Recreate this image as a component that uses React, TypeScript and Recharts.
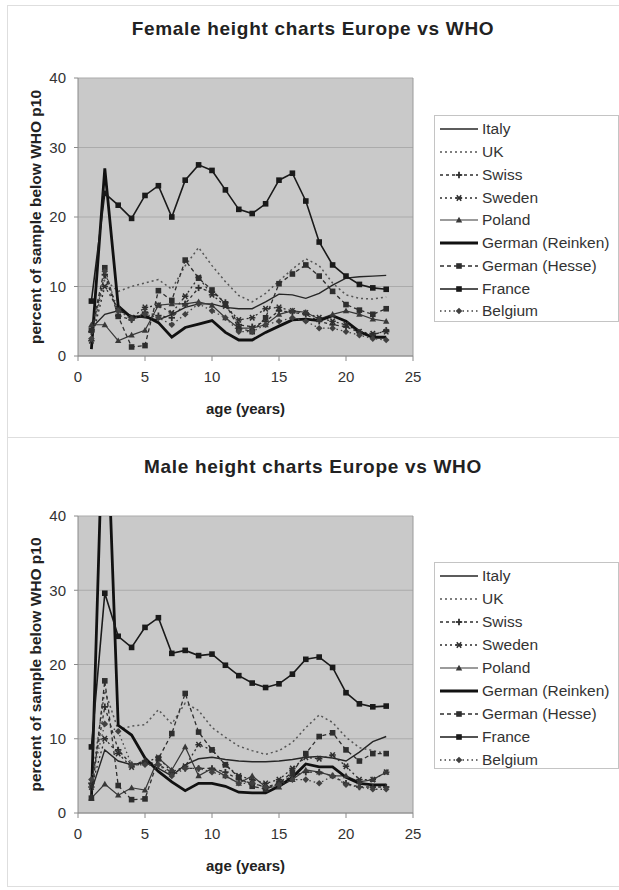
import React from 'react'
import { LineChart, Line, XAxis, YAxis, CartesianGrid, Legend, ReferenceLine } from 'recharts'

// ages 1..23 years
const AGES = [1, 2, 3, 4, 5, 6, 7, 8, 9, 10, 11, 12, 13, 14, 15, 16, 17, 18, 19, 20, 21, 22, 23]

const X_TICKS = [0, 5, 10, 15, 20, 25]
const Y_TICKS = [0, 10, 20, 30, 40]

// female, % of sample below WHO p10
const F_ITALY = [4.0, 6.0, 6.5, 5.8, 5.5, 5.2, 6.0, 7.0, 7.5, 7.5, 7.0, 6.8, 6.8, 7.8, 8.9, 8.8, 8.3, 9.0, 10.2, 11.2, 11.4, 11.5, 11.6]
const F_UK = [3.0, 11.0, 9.3, 10.0, 10.5, 11.0, 9.6, 13.0, 15.6, 13.0, 10.7, 8.7, 7.8, 9.0, 10.8, 12.5, 14.0, 13.0, 10.5, 8.8, 8.3, 8.2, 8.5]
const F_SWISS = [3.5, 11.7, 5.8, 5.2, 6.3, 5.8, 5.5, 7.5, 9.8, 9.2, 7.7, 4.5, 4.2, 5.0, 6.5, 6.3, 6.0, 5.0, 4.5, 4.2, 3.4, 3.0, 3.7]
const F_SWEDEN = [2.2, 10.0, 6.8, 5.5, 7.0, 7.3, 6.2, 8.6, 11.3, 8.8, 7.2, 5.2, 5.5, 6.8, 7.0, 6.5, 6.2, 5.5, 5.0, 4.5, 3.5, 3.2, 3.5]
const F_POLAND = [4.5, 4.5, 2.2, 3.0, 3.7, 7.3, 7.5, 7.5, 7.8, 7.3, 5.5, 4.0, 4.0, 4.5, 6.0, 6.5, 6.3, 5.3, 6.0, 6.5, 6.0, 5.3, 5.0]
const F_REINKEN = [1.0, 27.0, 7.2, 5.5, 5.8, 4.8, 2.7, 4.1, 4.6, 5.1, 3.4, 2.3, 2.3, 3.4, 4.3, 5.2, 5.3, 5.1, 5.8, 5.0, 3.5, 2.7, 2.7]
const F_HESSE = [3.7, 12.7, 5.7, 1.3, 1.5, 9.4, 8.0, 13.8, 11.2, 9.5, 7.5, 4.0, 3.5, 5.5, 10.4, 11.8, 13.1, 11.5, 9.3, 7.4, 6.6, 6.0, 6.8]
const F_FRANCE = [7.9, 23.4, 21.7, 19.8, 23.1, 24.5, 20.0, 25.3, 27.5, 26.7, 23.9, 21.1, 20.5, 21.9, 25.3, 26.3, 22.3, 16.4, 13.1, 11.5, 10.3, 9.8, 9.6]
const F_BELGIUM = [2.5, 12.2, 6.5, 5.3, 6.0, 5.5, 4.5, 6.0, 7.5, 6.5, 5.5, 3.5, 3.5, 4.5, 5.0, 5.5, 5.0, 4.0, 4.0, 3.5, 3.0, 2.5, 2.3]

// male
const M_ITALY = [3.0, 8.5, 7.0, 6.5, 6.8, 6.0, 5.0, 6.5, 7.3, 7.5, 7.2, 7.0, 6.9, 6.9, 7.0, 7.2, 7.5, 7.6, 7.4, 7.0, 8.2, 9.6, 10.3]
const M_UK = [4.0, 16.5, 11.2, 11.7, 11.9, 13.9, 12.0, 14.8, 13.8, 11.5, 10.2, 9.0, 8.4, 7.9, 8.4, 9.5, 11.5, 13.2, 12.2, 10.2, 8.8, 8.4, 8.0]
const M_SWISS = [4.0, 14.3, 8.5, 6.5, 7.0, 6.5, 5.5, 6.0, 6.0, 6.0, 5.5, 4.5, 4.0, 3.5, 4.0, 5.0, 5.5, 5.5, 5.0, 4.0, 3.5, 3.5, 3.5]
const M_SWEDEN = [3.5, 10.0, 8.0, 6.2, 6.8, 7.5, 5.5, 6.3, 9.2, 8.5, 6.5, 5.0, 4.5, 4.0, 4.5, 6.0, 7.5, 7.3, 7.8, 6.3, 4.5, 4.5, 5.5]
const M_POLAND = [2.0, 3.9, 2.4, 3.4, 3.1, 7.4, 5.8, 8.9, 5.0, 6.0, 5.0, 4.0, 5.0, 3.5, 3.5, 4.5, 5.8, 5.5, 5.0, 5.0, 4.2, 4.5, 5.5]
const M_REINKEN = [1.8, 62.0, 11.8, 10.5, 7.4, 5.6, 4.2, 3.0, 4.0, 4.0, 3.6, 2.8, 2.7, 2.7, 3.6, 4.8, 6.6, 6.2, 6.2, 4.8, 4.0, 3.8, 3.8]
const M_HESSE = [2.0, 17.8, 3.7, 1.8, 1.9, 7.3, 10.7, 16.1, 10.9, 8.5, 6.5, 4.8, 3.6, 3.2, 4.0, 5.5, 8.0, 10.3, 10.8, 8.5, 7.0, 8.0, 8.0]
const M_FRANCE = [8.9, 29.6, 23.8, 22.3, 25.0, 26.3, 21.5, 21.9, 21.2, 21.4, 19.9, 18.5, 17.5, 16.9, 17.4, 18.7, 20.7, 21.0, 19.6, 16.2, 14.7, 14.3, 14.4]
const M_BELGIUM = [4.5, 12.0, 11.0, 6.5, 6.5, 6.5, 5.0, 6.0, 6.0, 5.5, 5.0, 4.0, 4.0, 3.5, 3.8, 4.5, 4.5, 4.0, 5.0, 3.8, 3.5, 3.2, 3.2]

type Marker = 'none' | 'square' | 'triangle' | 'plus' | 'star' | 'diamond'

const FONT = '"Liberation Sans", Arial, sans-serif'

// line look per series, same order as legend
const STYLES: { name: string; dash?: string; width: number; color: string; marker: Marker }[] = [
  { name: 'Italy', width: 1.4, color: '#262626', marker: 'none' },
  { name: 'UK', dash: '2 3', width: 1.5, color: '#555', marker: 'none' },
  { name: 'Swiss', dash: '3 3', width: 1.3, color: '#2e2e2e', marker: 'plus' },
  { name: 'Sweden', dash: '2 3', width: 1.3, color: '#2e2e2e', marker: 'star' },
  { name: 'Poland', width: 1.2, color: '#383838', marker: 'triangle' },
  { name: 'German (Reinken)', width: 2.8, color: '#111', marker: 'none' },
  { name: 'German (Hesse)', dash: '4 3', width: 1.3, color: '#2e2e2e', marker: 'square' },
  { name: 'France', width: 1.6, color: '#1a1a1a', marker: 'square' },
  { name: 'Belgium', dash: '1.5 3', width: 1.3, color: '#404040', marker: 'diamond' },
]

function buildRows(series: number[][]) {
  return AGES.map((age, i) => {
    const row: any = { age }
    STYLES.forEach((s, j) => {
      row[s.name] = series[j][i]
    })
    return row
  })
}

const femaleRows = buildRows([F_ITALY, F_UK, F_SWISS, F_SWEDEN, F_POLAND, F_REINKEN, F_HESSE, F_FRANCE, F_BELGIUM])
const maleRows = buildRows([M_ITALY, M_UK, M_SWISS, M_SWEDEN, M_POLAND, M_REINKEN, M_HESSE, M_FRANCE, M_BELGIUM])

function drawMarker(kind: Marker, cx: number, cy: number, color: string, key?: string) {
  if (kind === 'none' || cx == null || cy == null) return <g key={key} />
  if (kind === 'square') return <rect key={key} x={cx - 2.8} y={cy - 2.8} width={5.6} height={5.6} fill={color} />
  if (kind === 'triangle')
    return <path key={key} d={`M${cx},${cy - 3.3} L${cx + 3.2},${cy + 2.4} L${cx - 3.2},${cy + 2.4} Z`} fill={color} />
  if (kind === 'diamond')
    return <path key={key} d={`M${cx},${cy - 3.3} L${cx + 3.3},${cy} L${cx},${cy + 3.3} L${cx - 3.3},${cy} Z`} fill={color} />
  if (kind === 'plus')
    return (
      <g key={key} stroke={color} strokeWidth={1.8}>
        <line x1={cx - 3.2} x2={cx + 3.2} y1={cy} y2={cy} />
        <line x1={cx} x2={cx} y1={cy - 3.2} y2={cy + 3.2} />
      </g>
    )
  // star
  return (
    <g key={key} stroke={color} strokeWidth={1.5}>
      <line x1={cx - 3.2} x2={cx + 3.2} y1={cy} y2={cy} />
      <line x1={cx - 2.2} x2={cx + 2.2} y1={cy - 2.7} y2={cy + 2.7} />
      <line x1={cx + 2.2} x2={cx - 2.2} y1={cy - 2.7} y2={cy + 2.7} />
    </g>
  )
}

function LegendBox({ rowH }: { rowH: number }) {
  return (
    <div
      style={{
        width: '100%',
        height: '100%',
        boxSizing: 'border-box',
        border: '1px solid #c4c4c4',
        background: '#fff',
        paddingTop: 2,
        paddingLeft: 4,
        fontFamily: FONT,
      }}
    >
      {STYLES.map((s) => (
        <div key={s.name} style={{ display: 'flex', alignItems: 'center', height: rowH }}>
          <svg width={40} height={10} style={{ flex: 'none' }}>
            <line x1={1} x2={39} y1={5} y2={5} stroke={s.color} strokeWidth={s.width} strokeDasharray={s.dash} />
            {drawMarker(s.marker, 20, 5, s.color)}
          </svg>
          <span style={{ marginLeft: 3, fontSize: 15.5, color: '#333', whiteSpace: 'nowrap' }}>{s.name}</span>
        </div>
      ))}
    </div>
  )
}

interface PanelProps {
  title: string
  rows: any[]
  top: number
  height: number
  marginTop: number
  marginBottom: number
  legendTop: number
  rowH: number
}

function Panel({ title, rows, top, height, marginTop, marginBottom, legendTop, rowH }: PanelProps) {
  return (
    <div style={{ position: 'absolute', left: 0, top, width: 619, height }}>
      <div
        style={{
          position: 'absolute',
          left: 7,
          width: 612,
          textAlign: 'center',
          top: marginTop - 60,
          fontFamily: FONT,
          fontWeight: 'bold',
          fontSize: 19,
          letterSpacing: 0.7,
          color: '#222',
        }}
      >
        {title}
      </div>
      <LineChart
        width={619}
        height={height}
        data={rows}
        margin={{ top: marginTop, right: 206, left: 30, bottom: marginBottom }}
        style={{ position: 'absolute', left: 0, top: 0 }}
      >
        <CartesianGrid vertical={false} fill="#c9c9c9" stroke="#ababab" horizontalValues={Y_TICKS} />
        <ReferenceLine x={25} stroke="#9a9a9a" />
        <XAxis
          dataKey="age"
          type="number"
          domain={[0, 25]}
          ticks={X_TICKS}
          height={30}
          stroke="#8a8a8a"
          tickSize={5}
          tickMargin={10}
          tick={{ fill: '#333', fontSize: 15, fontFamily: FONT }}
          label={{
            content: (p: any) => {
              const vb = p.viewBox
              return (
                <text
                  x={vb.x + vb.width / 2}
                  y={vb.y + 52}
                  textAnchor="middle"
                  dominantBaseline="central"
                  fontFamily={FONT}
                  fontWeight="bold"
                  fontSize={15}
                  fill="#222"
                >
                  age (years)
                </text>
              )
            },
          }}
        />
        <YAxis
          type="number"
          domain={[0, 40]}
          ticks={Y_TICKS}
          allowDataOverflow
          width={48}
          stroke="#8a8a8a"
          tickSize={4}
          tickMargin={8}
          tick={{ fill: '#333', fontSize: 15, fontFamily: FONT }}
          label={{
            content: (p: any) => {
              const vb = p.viewBox
              const cx = 35
              const cy = vb.y + vb.height / 2
              return (
                <text
                  x={cx}
                  y={cy}
                  transform={`rotate(-90 ${cx} ${cy})`}
                  textAnchor="middle"
                  dominantBaseline="central"
                  fontFamily={FONT}
                  fontWeight="bold"
                  fontSize={15.5}
                  fill="#222"
                >
                  percent of sample below WHO p10
                </text>
              )
            },
          }}
        />
        <Legend
          layout="vertical"
          align="center"
          verticalAlign="middle"
          wrapperStyle={{ left: 434, top: legendTop, width: 185, height: 207 }}
          content={() => <LegendBox rowH={rowH} />}
        />
        {STYLES.map((s) => (
          <Line
            key={s.name}
            dataKey={s.name}
            name={s.name}
            type="linear"
            stroke={s.color}
            strokeWidth={s.width}
            strokeDasharray={s.dash}
            isAnimationActive={false}
            activeDot={false}
            dot={
              s.marker === 'none'
                ? false
                : (p: any) => drawMarker(s.marker, p.cx, p.cy, s.color, `${s.name}-${p.index}`)
            }
          />
        ))}
      </LineChart>
    </div>
  )
}

export default function App() {
  return (
    <div style={{ position: 'absolute', left: 0, top: 0, width: 619, height: 890, background: '#fff', overflow: 'hidden' }}>
      <div style={{ position: 'absolute', left: 7, top: 5, width: 640, height: 431, border: '1px solid #dedede' }} />
      <div style={{ position: 'absolute', left: 7, top: 437, width: 640, height: 448, border: '1px solid #dedede' }} />
      <Panel
        title="Female height charts Europe vs WHO"
        rows={femaleRows}
        top={0}
        height={436}
        marginTop={78}
        marginBottom={50}
        legendTop={115}
        rowH={22.75}
      />
      <Panel
        title="Male height charts Europe vs WHO"
        rows={maleRows}
        top={440}
        height={450}
        marginTop={76}
        marginBottom={47}
        legendTop={122}
        rowH={22.9}
      />
    </div>
  )
}
